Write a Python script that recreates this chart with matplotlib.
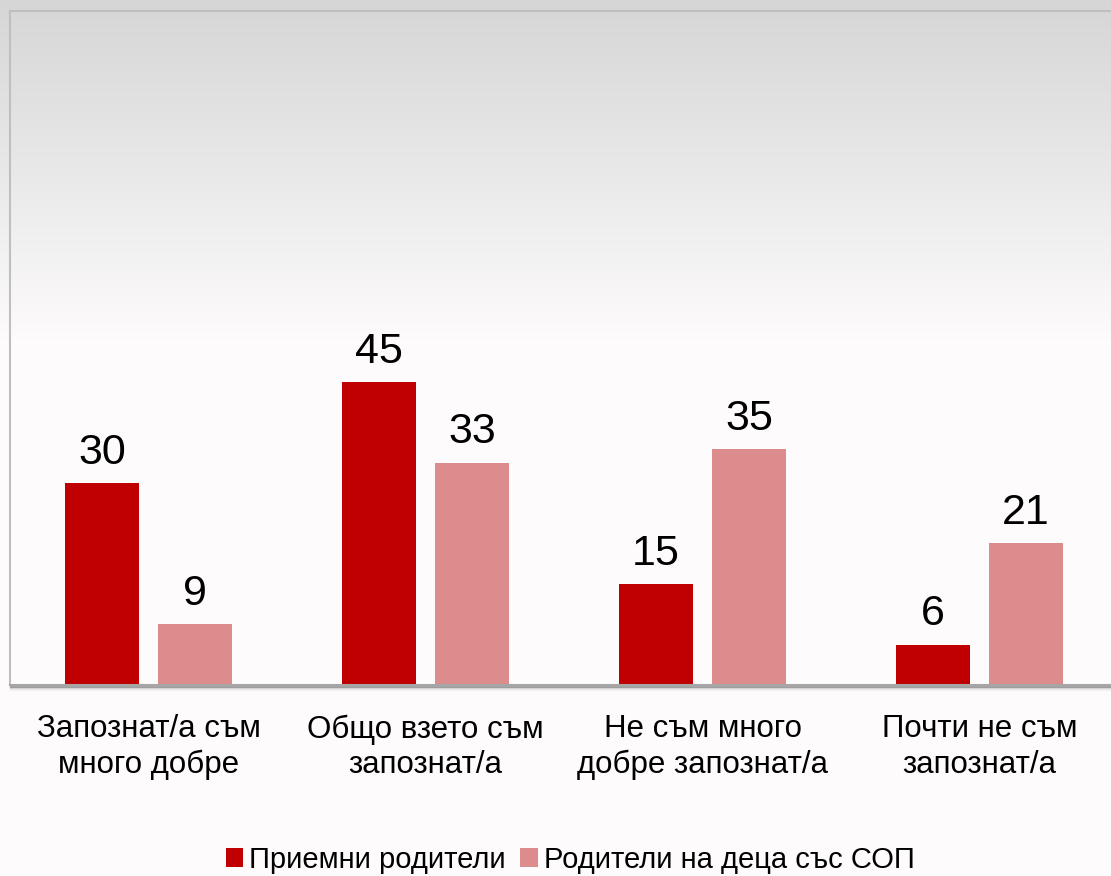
import matplotlib.pyplot as plt
import numpy as np

# данни
categories = ['Запознат/а съм\nмного добре', 'Общо взето съм\nзапознат/а',
              'Не съм много\nдобре запознат/а', 'Почти не съм\nзапознат/а']
foster = [30, 45, 15, 6]
sop = [9, 33, 35, 21]
series_names = ['Приемни родители', 'Родители на деца със СОП']

plt.rcParams['font.family'] = ['Liberation Sans', 'DejaVu Sans']

fig = plt.figure(figsize=(11.11, 8.76), dpi=100)

# градиентен фон
bg = fig.add_axes([0, 0, 1, 1], zorder=-10)
H = 876
rows = np.arange(H)
t = np.clip(rows / 340.0, 0, 1)
top = np.array([214, 214, 214]) / 255
bot = np.array([253, 251, 251]) / 255
grad = top[None, :] * (1 - t[:, None]) + bot[None, :] * t[:, None]
bg.imshow(grad[:, None, :], aspect='auto', extent=[0, 1, 0, 1])
bg.axis('off')

ax = fig.add_axes([10 / 1111, 1 - 685 / 876, 1108 / 1111, 674 / 876])
ax.patch.set_alpha(0)

x = np.arange(len(categories))
w = 0.264
off = 0.168
b1 = ax.bar(x - off, foster, w, color='#c00000', label=series_names[0])
b2 = ax.bar(x + off, sop, w, color='#dc8c8c', label=series_names[1])

for bars, vals in ((b1, foster), (b2, sop)):
    for r, v in zip(bars, vals):
        ax.text(r.get_x() + r.get_width() / 2, v + 1.5, str(v),
                ha='center', va='bottom', fontsize=31)

ax.set_xlim(-0.5, 3.5)
ax.set_ylim(0, 100)
ax.set_yticks([])
ax.set_xticks(x)
ax.set_xticklabels(categories, fontsize=22.5, linespacing=1.25)
ax.tick_params(axis='x', length=0, pad=21)
for s in ax.spines.values():
    s.set_color('#bfbfbf')
    s.set_linewidth(1.5)
ax.spines['bottom'].set_color('#a6a6a6')

# сянка под долния ръб
for i, a in enumerate([0.3, 0.22, 0.15, 0.1, 0.06, 0.03]):
    ax.axhline(-(i + 1) * 0.12, color='black', alpha=a, lw=0.9, clip_on=False)

fig.legend(loc='center', bbox_to_anchor=(570 / 1111, 1 - 860 / 876), ncol=2,
           frameon=False, fontsize=21, handlelength=0.6, handleheight=0.6,
           handletextpad=0.2, columnspacing=0.5)

fig.savefig('out.png', dpi=100)
